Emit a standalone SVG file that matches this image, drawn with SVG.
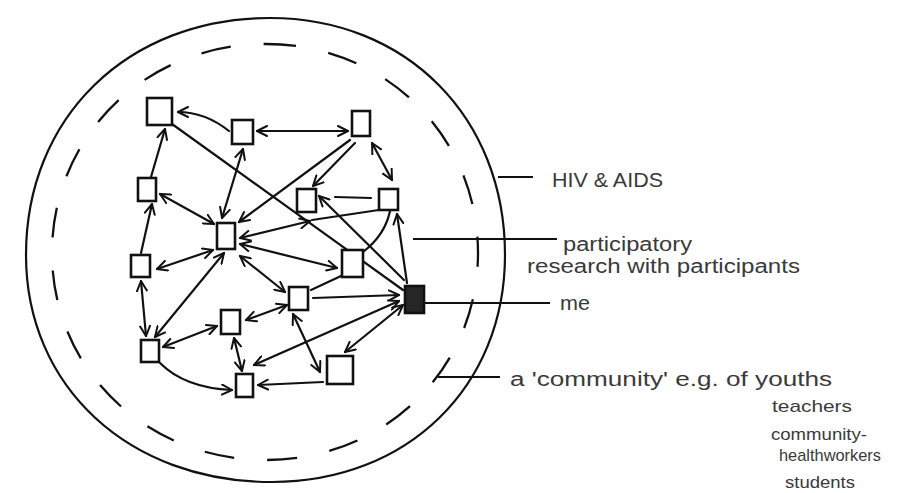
<svg xmlns="http://www.w3.org/2000/svg" width="897" height="493" viewBox="0 0 897 493">
<style>
.outer{fill:none;stroke:#111;stroke-width:2.2}
.dash{fill:none;stroke:#111;stroke-width:2.3;stroke-dasharray:30 33}
.box{fill:#fff;stroke:#111;stroke-width:2.6}
.me{fill:#262626;stroke:#111;stroke-width:2.6}
.e{fill:none;stroke:#111;stroke-width:2.2;stroke-linecap:round}
.lbl{stroke:#111;stroke-width:2;fill:none}
text{font-family:"Liberation Sans",Arial,sans-serif;fill:#3a3a3a;font-size:20px}
.sm{font-size:17px}
</style>
<defs>
<marker id="ah" viewBox="0 0 12 12" refX="11" refY="6" markerWidth="12" markerHeight="12" markerUnits="userSpaceOnUse" orient="auto-start-reverse">
<path d="M1,1 L11,6 L1,11" fill="none" stroke="#111" stroke-width="2" stroke-linecap="round" stroke-linejoin="round"/>
</marker>
</defs>
<rect width="897" height="493" fill="#fff"/>
<g id="hiv-aids-boundary">
<path class="outer" d="M 270 18 C 406 18, 505 117, 505 255 C 505 387, 407 482, 272 482 C 129 482, 26 387, 26 255 C 26 117, 128 18, 270 18 Z"/>
</g>
<g id="community-boundary">
<path class="dash" d="M 266 44 C 385 44, 478 136, 478 253 C 478 369, 385 460, 266 460 C 146 460, 52 369, 52 253 C 52 136, 146 44, 266 44 Z"/>
</g>
<g id="connectors">
<path class="e" d="M 172 124 L 403 290"/>
<path class="e" d="M 229 131 Q 205 112 178 112" marker-end="url(#ah)"/>
<path class="e" d="M 257 131 L 348 131" marker-start="url(#ah)" marker-end="url(#ah)"/>
<path class="e" d="M 372 143 L 392 180" marker-start="url(#ah)" marker-end="url(#ah)"/>
<path class="e" d="M 355 143 L 313 186" marker-end="url(#ah)"/>
<path class="e" d="M 350 140 L 239 222" marker-end="url(#ah)"/>
<path class="e" d="M 243 149 L 222 218" marker-start="url(#ah)" marker-end="url(#ah)"/>
<path class="e" d="M 151 177 L 165 129" marker-end="url(#ah)"/>
<path class="e" d="M 160 194 L 214 224" marker-start="url(#ah)" marker-end="url(#ah)"/>
<path class="e" d="M 141 253 L 152 204" marker-end="url(#ah)"/>
<path class="e" d="M 213 250 L 157 269" marker-start="url(#ah)" marker-end="url(#ah)"/>
<path class="e" d="M 141 281 L 146 336" marker-start="url(#ah)" marker-end="url(#ah)"/>
<path class="e" d="M 224 253 L 155 337" marker-start="url(#ah)" marker-end="url(#ah)"/>
<path class="e" d="M 163 347 L 217 326" marker-start="url(#ah)" marker-end="url(#ah)"/>
<path class="e" d="M 160 363 Q 185 388 232 390" marker-end="url(#ah)"/>
<path class="e" d="M 234 338 L 242 371" marker-start="url(#ah)" marker-end="url(#ah)"/>
<path class="e" d="M 323 382 L 258 385" marker-end="url(#ah)"/>
<path class="e" d="M 293 314 L 320 372" marker-start="url(#ah)" marker-end="url(#ah)"/>
<path class="e" d="M 403 305 L 345 352" marker-start="url(#ah)" marker-end="url(#ah)"/>
<path class="e" d="M 399 301 L 254 365" marker-start="url(#ah)" marker-end="url(#ah)"/>
<path class="e" d="M 313 298 L 399 295" marker-end="url(#ah)"/>
<path class="e" d="M 240 256 L 285 292" marker-start="url(#ah)" marker-end="url(#ah)"/>
<path class="e" d="M 240 238 L 310 221" marker-start="url(#ah)" marker-end="url(#ah)"/>
<path class="e" d="M 312 220 L 392 208"/>
<path class="e" d="M 240 244 L 337 268" marker-start="url(#ah)" marker-end="url(#ah)"/>
<path class="e" d="M 246 320 L 287 305" marker-start="url(#ah)" marker-end="url(#ah)"/>
<path class="e" d="M 311 290 L 341 276"/>
<path class="e" d="M 390 211 Q 385 235 363 252"/>
<path class="e" d="M 407 283 L 397 214" marker-end="url(#ah)"/>
<path class="e" d="M 335 197 L 371 198"/>
<path class="e" d="M 404 280 L 319 196" marker-end="url(#ah)"/>
</g>
<g id="node-a"><rect class="box" x="147" y="98" width="25" height="27"/></g>
<g id="node-b"><rect class="box" x="232" y="120" width="21" height="24"/></g>
<g id="node-c"><rect class="box" x="352" y="111" width="18" height="25"/></g>
<g id="node-d"><rect class="box" x="138" y="178" width="18" height="23"/></g>
<g id="node-e"><rect class="box" x="217" y="223" width="18" height="26"/></g>
<g id="node-f"><rect class="box" x="297" y="189" width="19" height="23"/></g>
<g id="node-g"><rect class="box" x="379" y="189" width="19" height="21"/></g>
<g id="node-h"><rect class="box" x="131" y="255" width="19" height="22"/></g>
<g id="node-i"><rect class="box" x="342" y="250" width="21" height="27"/></g>
<g id="node-j"><rect class="box" x="289" y="287" width="19" height="23"/></g>
<g id="node-me"><rect class="me" x="405" y="286" width="19" height="27"/></g>
<g id="node-l"><rect class="box" x="221" y="310" width="19" height="24"/></g>
<g id="node-m"><rect class="box" x="141" y="340" width="18" height="22"/></g>
<g id="node-n"><rect class="box" x="327" y="356" width="26" height="28"/></g>
<g id="node-o"><rect class="box" x="236" y="374" width="17" height="23"/></g>
<g id="labels">
<line class="lbl" x1="498" y1="177" x2="533" y2="177"/>
<text x="552" y="187" textLength="111" lengthAdjust="spacingAndGlyphs">HIV &amp; AIDS</text>
<line class="lbl" x1="413" y1="239" x2="557" y2="239"/>
<text x="563" y="251" textLength="129" lengthAdjust="spacingAndGlyphs">participatory</text>
<text x="527" y="273" textLength="273" lengthAdjust="spacingAndGlyphs">research with participants</text>
<line class="lbl" x1="425" y1="303" x2="550" y2="303"/>
<text x="560" y="310" textLength="30" lengthAdjust="spacingAndGlyphs">me</text>
<line class="lbl" x1="438" y1="377" x2="500" y2="377"/>
<text x="510" y="386" textLength="322" lengthAdjust="spacingAndGlyphs">a 'community' e.g. of youths</text>
<text x="772" y="412" class="sm" textLength="80" lengthAdjust="spacingAndGlyphs">teachers</text>
<text x="771" y="440" class="sm" textLength="96" lengthAdjust="spacingAndGlyphs">community-</text>
<text x="779" y="461" class="sm" textLength="102" lengthAdjust="spacingAndGlyphs">healthworkers</text>
<text x="785" y="488" class="sm" textLength="70" lengthAdjust="spacingAndGlyphs">students</text>
</g>
</svg>
